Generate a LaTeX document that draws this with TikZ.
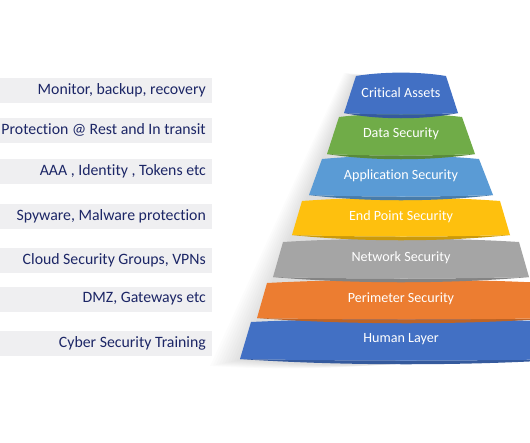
\documentclass[tikz,border=0pt]{standalone}
\usepackage{fontspec}
\setmainfont{Carlito}[Ligatures=NoCommon]
\usetikzlibrary{calc}
\definecolor{txtN}{RGB}{28,38,102}
\definecolor{barG}{RGB}{239,239,241}
\definecolor{lyB}{RGB}{66,112,196}
\definecolor{lyG}{RGB}{112,172,72}
\definecolor{lyL}{RGB}{90,155,213}
\definecolor{lyY}{RGB}{254,192,14}
\definecolor{lyS}{RGB}{165,165,165}
\definecolor{lyO}{RGB}{236,125,49}

\begin{document}
\begin{tikzpicture}[x=1pt,y=-1pt]
\useasboundingbox (0,0) rectangle (530,442);
% soft shadow left of the pyramid
\foreach \d in {0,3,...,30}
  \fill[black,opacity=0.012] (356-\d*0.4,76-\d*0.1) -- (240-\d,360+\d*0.2) .. controls (300,366+\d*0.2) and (360,366) .. (400,364) -- (400,76) -- cycle;
% left side labels
\foreach \n/\y/\t in {1/90/{Monitor, backup, recovery},2/130/{Protection @ Rest and In transit},
  3/171/{AAA , Identity , Tokens etc},4/216/{Spyware, Malware protection},
  5/260/{Cloud Security Groups, VPNs},6/299/{DMZ, Gateways etc},7/343/{Cyber Security Training}} {
  \fill[barG] (0,\y-12.5) rectangle (212,\y+12.5);
  \node[anchor=east,inner sep=0pt,font=\fontsize{15.8}{17}\selectfont,text=txtN] (t\n) at (206,\y) {\t};
}
% pyramid layers: top y, bottom y, top left/right x, bottom left/right x
\foreach \n/\yt/\yb/\tl/\tr/\bl/\br/\c/\t in {7/322/359/251/560/240/572/lyB/{Human Layer},
  6/283/318/267/545/257/556/lyO/{Perimeter Security},5/242/277/283/519/273/529/lyS/{Network Security},
  4/201/235/302/500/292/510/lyY/{End Point Security},3/159/195/322/479/309/493/lyL/{Application Security},
  2/117/154/339/462/327/475/lyG/{Data Security},1/76/113/356/446/344/458/lyB/{Critical Assets}} {
  \fill[\c!80!black] (\bl,\yb) .. controls ($(\bl,\yb)!0.3!(\br,\yb)+(0,7)$) and ($(\bl,\yb)!0.7!(\br,\yb)+(0,7)$) .. (\br,\yb)
    .. controls ($(\bl,\yb)!0.7!(\br,\yb)+(0,2)$) and ($(\bl,\yb)!0.3!(\br,\yb)+(0,2)$) .. cycle;
  \fill[\c] (\tl,\yt) .. controls ($(\tl,\yt)!0.3!(\tr,\yt)+(0,-4.5)$) and ($(\tl,\yt)!0.7!(\tr,\yt)+(0,-4.5)$) .. (\tr,\yt)
    -- (\br,\yb) .. controls ($(\bl,\yb)!0.7!(\br,\yb)+(0,2)$) and ($(\bl,\yb)!0.3!(\br,\yb)+(0,2)$) .. (\bl,\yb) -- cycle;
  \node[text=white,inner sep=0pt,font=\fontsize{14.1}{16}\selectfont] (l\n) at (401,{(\yt+\yb)/2-1.5}) {\t};
}
\end{tikzpicture}
\end{document}
